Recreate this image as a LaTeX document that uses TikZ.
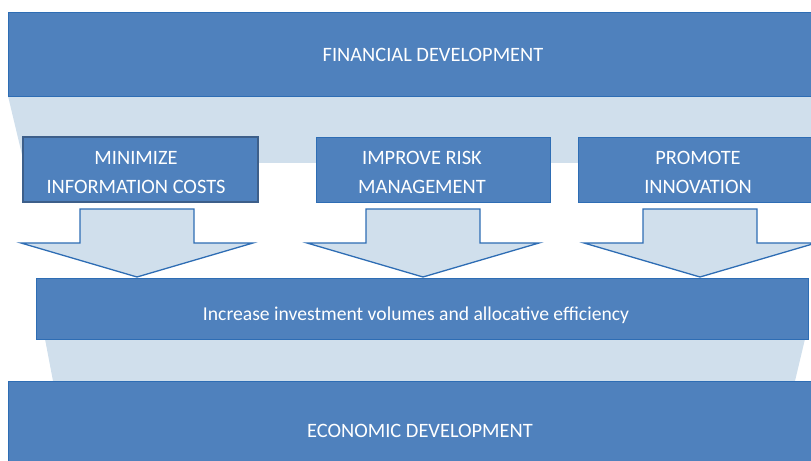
\documentclass[tikz,border=0pt]{standalone}
\usepackage{fontspec}
\setmainfont{Carlito}
\definecolor{boxblue}{HTML}{4F81BD}
\definecolor{lineblue}{HTML}{2E6DB4}
\definecolor{darkline}{HTML}{3D5F8A}
\definecolor{paleblue}{HTML}{D0DFEC}

\begin{document}
\begin{tikzpicture}[x=1bp, y=-1bp,
	bigbox/.style={draw=lineblue, fill=boxblue, line width=0.8bp, inner sep=0pt},
	boxtext/.style={text=white, align=center, inner sep=0pt, font=\fontsize{20.5}{29}\selectfont},
	band/.style={fill=paleblue},
	blockarrow/.style={draw=lineblue, fill=paleblue, line width=1.3bp, line join=miter}]
	
	\useasboundingbox (0,0) rectangle (811,461);
	
	% pale bands behind the boxes
	\fill[band] (8,96) -- (811,96) -- (811,163) -- (24,163) -- cycle;
	\fill[band] (45,339) -- (805,339) -- (795,381) -- (53,381) -- cycle;
	
	\node[bigbox, minimum width=850bp, minimum height=84bp] (fin) at (433,54) {};
	\node[boxtext] (fintext) at (433,54.5) {FINANCIAL DEVELOPMENT};
	
	\node[bigbox, minimum width=235bp, minimum height=65bp, draw=darkline, line width=2bp] (info) at (140.5,169.5) {};
	\node[bigbox, minimum width=234bp, minimum height=65bp] (risk) at (433,169.5) {};
	\node[bigbox, minimum width=234bp, minimum height=65bp] (innov) at (695,169.5) {};
	\node[boxtext] (infotext) at (136,172.5) {MINIMIZE\\INFORMATION COSTS};
	\node[boxtext] (risktext) at (422,172.5) {IMPROVE RISK\\MANAGEMENT};
	\node[boxtext] (innovtext) at (698,172.5) {PROMOTE\\INNOVATION};
	
	% block arrows down to the middle box
	\foreach \c in {137,423,700}
		\draw[blockarrow] (\c-57,209) -- (\c+57,209) -- (\c+57,243) -- (\c+116,243) -- (\c,277)
			-- (\c-116,243) -- (\c-57,243) -- cycle;
	
	\node[bigbox, minimum width=772bp, minimum height=61bp] (invest) at (422,308.5) {};
	\node[boxtext, font=\fontsize{19.7}{24}\selectfont] (investtext) at (416,315) {Increase investment volumes and allocative efficiency};
	
	\node[bigbox, minimum width=850bp, minimum height=100bp] (econ) at (433,431) {};
	\node[boxtext] (econtext) at (420,431) {ECONOMIC DEVELOPMENT};
	
\end{tikzpicture}
\end{document}
